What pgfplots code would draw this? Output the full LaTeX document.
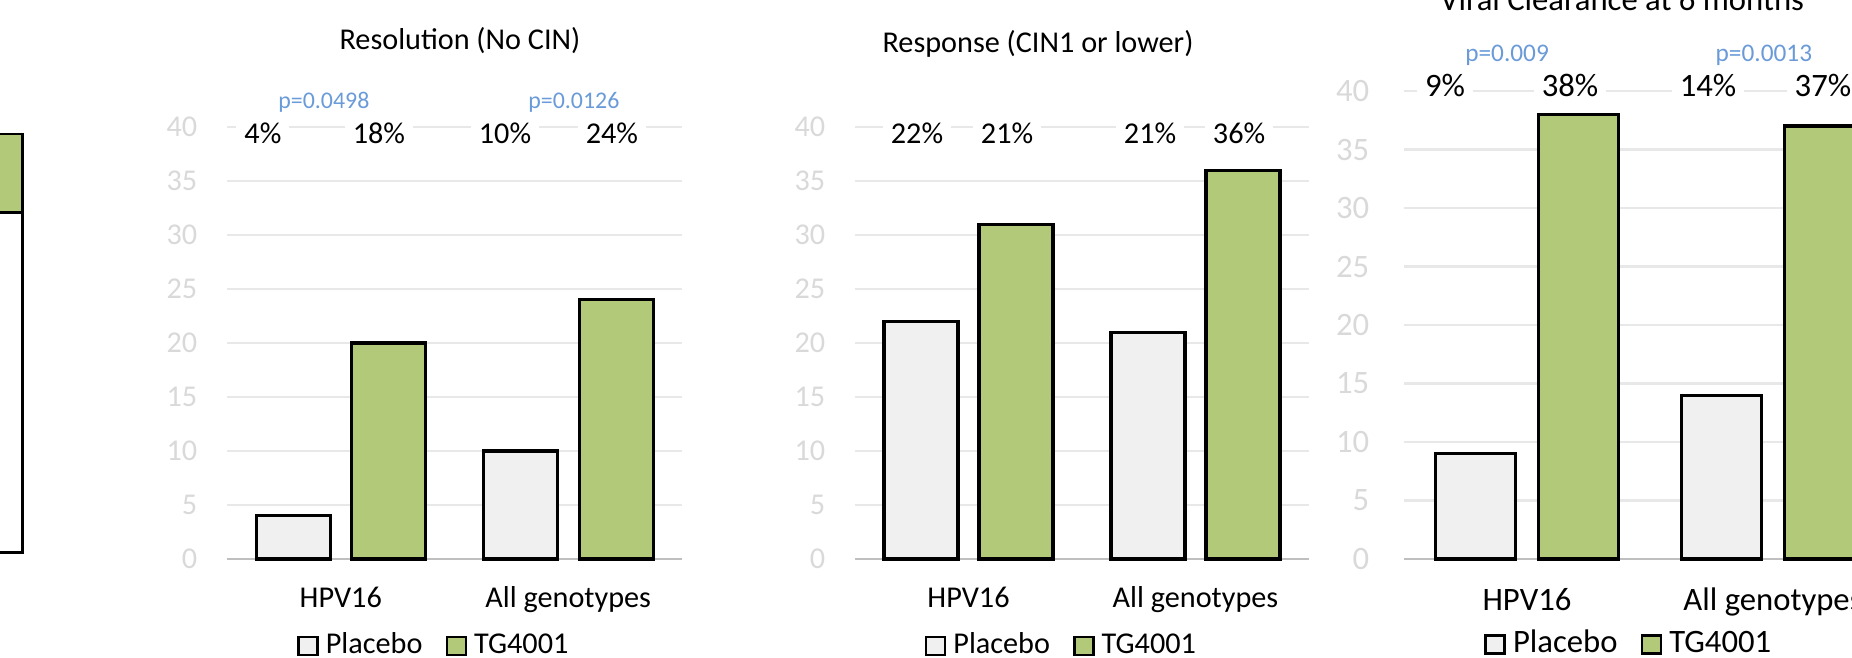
\documentclass[border=0pt]{standalone}
\usepackage{fontspec}
\setmainfont{Carlito}
\usepackage{pgfplots}
\pgfplotsset{compat=1.18}
\definecolor{tggreen}{HTML}{B1C979}
\definecolor{plgray}{HTML}{F0F0F0}
\definecolor{pblue}{HTML}{6A9BD8}
\definecolor{tickgray}{HTML}{D9D9D9}
\definecolor{gridgray}{HTML}{E8E8E8}
\definecolor{basegray}{HTML}{BFBFBF}
\pgfplotsset{
  panel/.style={
    scale only axis, anchor=south west,
    ymin=0, ymax=40, xmin=-0.5, xmax=1.5,
    xtick={0,1}, xticklabels={HPV16, All genotypes},
    ytick={0,5,...,40},
    ymajorgrids,
    grid style={draw=gridgray, line width=0.7pt},
    axis x line*=bottom, axis y line*=left,
    x axis line style={draw=basegray, line width=0.7pt},
    y axis line style={draw=none},
    major tick length=0pt,
    /pgf/number format/assume math mode=true,
    yticklabel style={anchor=east, inner sep=0pt, text=tickgray},
    xticklabel style={anchor=base, inner sep=0pt},
    clip=false,
    legend columns=2,
    legend style={draw=none, fill=none, anchor=center,
      /tikz/every even column/.append style={column sep=1.6mm}},
    every axis title/.style={at={(0.5,1)}, anchor=base},
  },
  mybar/.style={ybar, draw=black, line width=0.95pt,
    legend image code/.code={\draw[##1, line width=0.75pt] (0mm,-0.9mm) rectangle (1.9mm,0.9mm);}},
}
\tikzset{
  pct/.style={anchor=base, fill=white, inner xsep=0.8mm, inner ysep=0.4mm},
  pval/.style={anchor=base, text=pblue, inner sep=0pt},
}
\begin{document}
\begin{tikzpicture}[font=\fontsize{8.6}{10.3}\selectfont]
\useasboundingbox (0,0) rectangle (185.2mm,65.7mm);
\clip (0,0) rectangle (185.2mm,65.7mm);

% fragment of the previous chart at the left edge
\begin{axis}[at={(-7.6mm,10.4mm)}, anchor=south west, scale only axis,
  width=10mm, height=42mm, hide axis, xmin=0, xmax=1, ymin=0, ymax=100,
  ybar stacked, bar width=9.64mm]
\addplot[fill=white, draw=black, line width=0.95pt] coordinates {(0.5,81)};
\addplot[fill=tggreen, draw=black, line width=0.95pt] coordinates {(0.5,19)};
\end{axis}

% Panel 1
\begin{axis}[panel, at={(22.7mm,9.8mm)}, width=45.5mm, height=43.2mm,
  yticklabel style={xshift=-2.9mm}, xticklabel style={yshift=-4.8mm},
  title={Resolution (No CIN)}, title style={yshift=7.8mm, xshift=0.55mm},
  legend style={at={(0.46,-0.201)}}]
\addplot[mybar, bar width=7.4mm, fill=plgray, bar shift=-4.75mm] coordinates {(0,4) (1,10)};
\addplot[mybar, bar width=7.4mm, fill=tggreen, bar shift=4.8mm] coordinates {(0,20) (1,24)};
\legend{Placebo, TG4001}
\node[pval, font=\fontsize{6.8}{8}\selectfont] at (axis cs:-0.074,41.76) {p=0.0498};
\node[pval, font=\fontsize{6.8}{8}\selectfont] at (axis cs:1.025,41.76) {p=0.0126};
\node[pct] at (axis cs:-0.342,38.52) {4\%};
\node[pct] at (axis cs:0.168,38.52) {18\%};
\node[pct] at (axis cs:0.722,38.52) {10\%};
\node[pct] at (axis cs:1.192,38.52) {24\%};
\end{axis}

% Panel 2
\begin{axis}[panel, at={(85.5mm,9.8mm)}, width=45.4mm, height=43.2mm,
  yticklabel style={xshift=-2.9mm}, xticklabel style={yshift=-4.8mm},
  title={Response (CIN1 or lower)}, title style={yshift=7.5mm, xshift=-4.4mm},
  legend style={at={(0.46,-0.201)}}]
\addplot[mybar, bar width=7.4mm, fill=plgray, bar shift=-4.75mm] coordinates {(0,22) (1,21)};
\addplot[mybar, bar width=7.4mm, fill=tggreen, bar shift=4.75mm] coordinates {(0,31) (1,36)};
\legend{Placebo, TG4001}
\node[pct] at (axis cs:-0.227,38.43) {22\%};
\node[pct] at (axis cs:0.170,38.43) {21\%};
\node[pct] at (axis cs:0.800,38.43) {21\%};
\node[pct] at (axis cs:1.192,38.43) {36\%};
\end{axis}

% Panel 3
\begin{axis}[panel, at={(140.4mm,9.8mm)}, width=49.2mm, height=46.8mm,
  font=\fontsize{9.3}{11}\selectfont,
  yticklabel style={xshift=-3.4mm}, xticklabel style={yshift=-5.1mm},
  title={Viral Clearance at 6 months}, title style={yshift=8.1mm, xshift=-2.8mm},
  legend style={at={(0.462,-0.182)}}]
\addplot[mybar, bar width=8.0mm, fill=plgray, bar shift=-5.15mm] coordinates {(0,9) (1,14)};
\addplot[mybar, bar width=8.0mm, fill=tggreen, bar shift=5.15mm] coordinates {(0,38) (1,37)};
\legend{Placebo, TG4001}
\node[pval, font=\fontsize{7.2}{8.6}\selectfont] at (axis cs:-0.081,42.56) {p=0.009};
\node[pval, font=\fontsize{7.2}{8.6}\selectfont] at (axis cs:0.963,42.56) {p=0.0013};
\node[pct] at (axis cs:-0.333,39.49) {9\%};
\node[pct] at (axis cs:0.175,39.49) {38\%};
\node[pct] at (axis cs:0.736,39.49) {14\%};
\node[pct] at (axis cs:1.203,39.49) {37\%};
\end{axis}
\end{tikzpicture}
\end{document}
